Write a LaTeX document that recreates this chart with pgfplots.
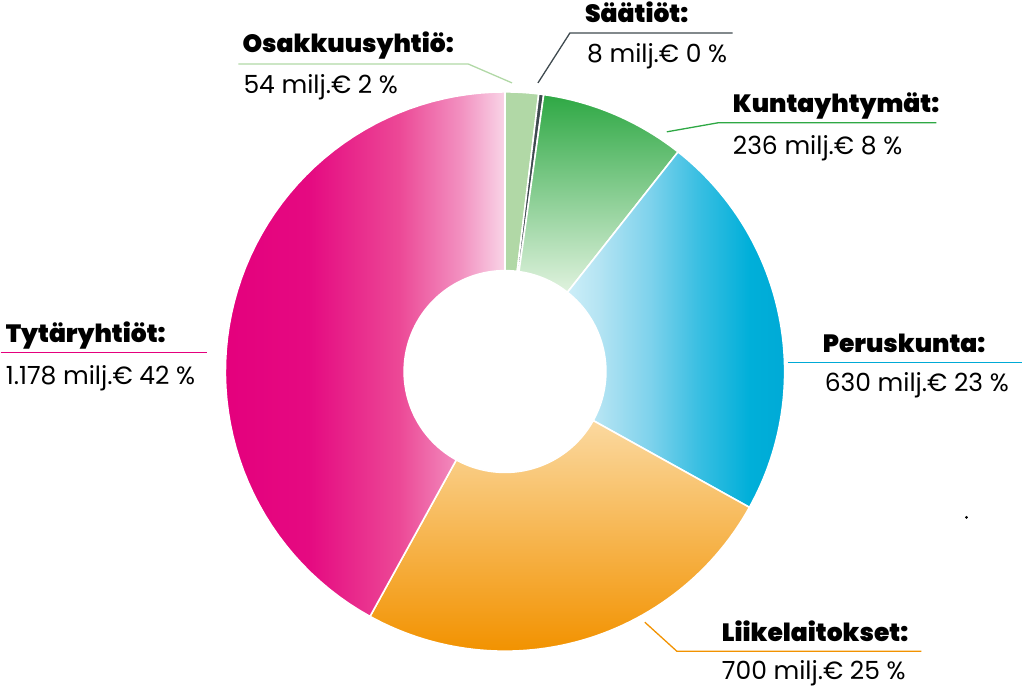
\documentclass[border=0pt]{standalone}
\usepackage{pgfplots}
\pgfplotsset{compat=1.18}
\usepackage{fontspec}
\setmainfont{Poppins}
\newfontfamily\heavy{Poppins Black}
\definecolor{magA}{HTML}{E4007D}
\definecolor{magA2}{HTML}{E50A81}
\definecolor{magB}{HTML}{EC4896}
\definecolor{magB2}{HTML}{F290C0}
\definecolor{magC}{HTML}{F9D5E7}
\definecolor{bluA}{HTML}{00AAD6}
\definecolor{bluA2}{HTML}{00AFD9}
\definecolor{bluB}{HTML}{3ABFE2}
\definecolor{bluB2}{HTML}{7ED2EC}
\definecolor{bluB3}{HTML}{B5E4F3}
\definecolor{bluC}{HTML}{CDEEF8}
\definecolor{orA}{HTML}{F29200}
\definecolor{orB}{HTML}{F6B045}
\definecolor{orC}{HTML}{FBD9A0}
\definecolor{grA}{HTML}{2EA844}
\definecolor{grB}{HTML}{86C98E}
\definecolor{grC}{HTML}{E0F2DE}
\definecolor{grL}{HTML}{B1D8A6}
\definecolor{grayD}{HTML}{3F4A4F}
\pgfdeclarehorizontalshading{tytar}{100bp}{color(0bp)=(magA); color(25bp)=(magA); color(40bp)=(magA2); color(56bp)=(magB); color(67bp)=(magB2); color(75bp)=(magC); color(100bp)=(magC)}
\pgfdeclarehorizontalshading{perus}{100bp}{color(0bp)=(bluC); color(25bp)=(bluC); color(32bp)=(bluB3); color(44bp)=(bluB2); color(55bp)=(bluB); color(67bp)=(bluA2); color(75bp)=(bluA); color(100bp)=(bluA)}
% ring sector: #1 = cumulative value before, #2 = value, #3 = style (total 2806)
\newcommand{\ring}[3]{%
  \addplot[#3, draw=white, line width=1.6pt, domain=0:121, samples=122]
   ({505+ifthenelse(x<60.5,280,101)*cos(90-360*(#1+#2*ifthenelse(x<60.5,x,121-x)/60)/2806)},
    {372-ifthenelse(x<60.5,280,101)*sin(90-360*(#1+#2*ifthenelse(x<60.5,x,121-x)/60)/2806)}) -- cycle;
}
\begin{document}
\begin{tikzpicture}
\begin{axis}[width=1023pt, height=688pt, scale only axis,
  xmin=0, xmax=1023, ymin=0, ymax=688, y dir=reverse,
  hide axis, clip=false]
\addplot[draw=none] coordinates {(0,0) (1023,688)};
% values: Osakkuusyhtiö 54, Säätiöt 8, Kuntayhtymät 236, Peruskunta 630, Liikelaitokset 700, Tytäryhtiöt 1178
\ring{0}{54}{fill=grL}
\ring{54}{8}{fill=grayD}
\ring{62}{236}{top color=grA, middle color=grB, bottom color=grC}
\ring{298}{630}{shade, shading=perus}
\ring{928}{700}{top color=orC, middle color=orB, bottom color=orA}
\ring{1628}{1178}{shade, shading=tytar}
% leader lines
\addplot[grL, line width=1.3pt] coordinates {(238,64) (468,64) (512,83)};
\addplot[grayD, line width=1.3pt] coordinates {(538,83) (570,33) (733,33)};
\addplot[grA, line width=1.3pt] coordinates {(667,132) (718,123) (937,123)};
\addplot[magA, line width=1.3pt] coordinates {(0,353) (207,353)};
\addplot[bluA, line width=1.3pt] coordinates {(788,363) (1023,363)};
\addplot[orA, line width=1.3pt] coordinates {(645,623) (677,652) (922,652)};
\addplot[only marks, mark=*, mark size=1.2pt, black] coordinates {(967,518)};
% labels
\tikzset{tt/.style={anchor=base west, inner sep=0pt, font=\heavy\fontsize{25}{30}\selectfont},
         vv/.style={anchor=base west, inner sep=0pt, font=\fontsize{25}{30}\selectfont}}
\node[tt] at (axis cs:242,53) {Osakkuusyhtiö:};
\node[vv] at (axis cs:243,94) {54 milj.€ 2 \%};
\node[tt] at (axis cs:585,23) {Säätiöt:};
\node[vv] at (axis cs:587,63) {8 milj.€ 0 \%};
\node[tt] at (axis cs:733,113) {Kuntayhtymät:};
\node[vv] at (axis cs:733,155) {236 milj.€ 8 \%};
\node[tt] at (axis cs:5,343) {Tytäryhtiöt:};
\node[vv] at (axis cs:5,385) {1.178 milj.€ 42 \%};
\node[tt] at (axis cs:823,353) {Peruskunta:};
\node[vv] at (axis cs:825,392) {630 milj.€ 23 \%};
\node[tt] at (axis cs:722,642) {Liikelaitokset:};
\node[vv] at (axis cs:722,680) {700 milj.€ 25 \%};
\end{axis}
\end{tikzpicture}
\end{document}
